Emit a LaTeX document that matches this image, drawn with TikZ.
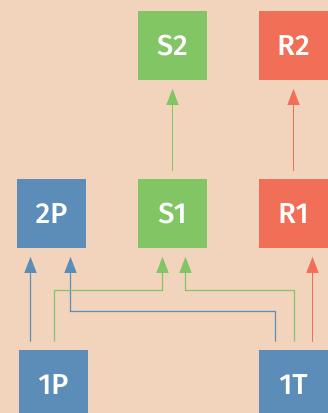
\documentclass[tikz,border=0pt]{standalone}
\usepackage{fontspec}
\setmainfont{Fira Sans}[UprightFont=* Medium]
\usetikzlibrary{arrows.meta}
\definecolor{peach}{HTML}{F2D4BD}
\definecolor{pblue}{HTML}{5B8DB8}
\definecolor{pgreen}{HTML}{82C564}
\definecolor{pred}{HTML}{F26F57}
\tikzset{
  box/.style={fill=#1,text=white,minimum size=69bp,inner sep=0pt,font=\fontsize{29}{29}\selectfont},
  link/.style={draw=#1,line width=1.2bp,-{Triangle[length=16bp,width=12bp]},shorten <=8.3bp,shorten >=8.7bp}
}
\begin{document}
\begin{tikzpicture}[x=1bp,y=-1bp]
\useasboundingbox[fill=peach] (0,0) rectangle (328,413);
\clip (0,0) rectangle (328,413);
% boxes
\node[box=pgreen] (s2) at (172.5,45.5) {S2};
\node[box=pred] (r2) at (293.5,45.5) {R2};
\node[box=pblue] (p2) at (51.5,213.5) {2P};
\node[box=pgreen] (s1) at (172.5,213.5) {S1};
\node[box=pred] (r1) at (293.5,213.5) {R1};
\node[box=pblue] (p1) at (53.5,384.5) {1P};
\node[box=pblue] (t1) at (293.5,384.5) {1T};
% upper links
\draw[link=pgreen] (s1) -- (s2);
\draw[link=pred] (r1) -- (r2);
% lower links
\draw[link=pblue] ([xshift=-23bp]p1.north) -- ([xshift=-21bp]p2.south);
\draw[link=pblue] ([xshift=-18bp]t1.north) |- (70.5,311.5) -- ([xshift=19bp]p2.south);
\draw[link=pgreen] ([xshift=1bp]p1.north) |- (162.5,290.5) -- ([xshift=-10bp]s1.south);
\draw[link=pgreen] ([xshift=1bp]t1.north) |- (185.5,290.5) -- ([xshift=13bp]s1.south);
\draw[link=pred] ([xshift=19bp]t1.north) -- ([xshift=19bp]r1.south);
\end{tikzpicture}
\end{document}
